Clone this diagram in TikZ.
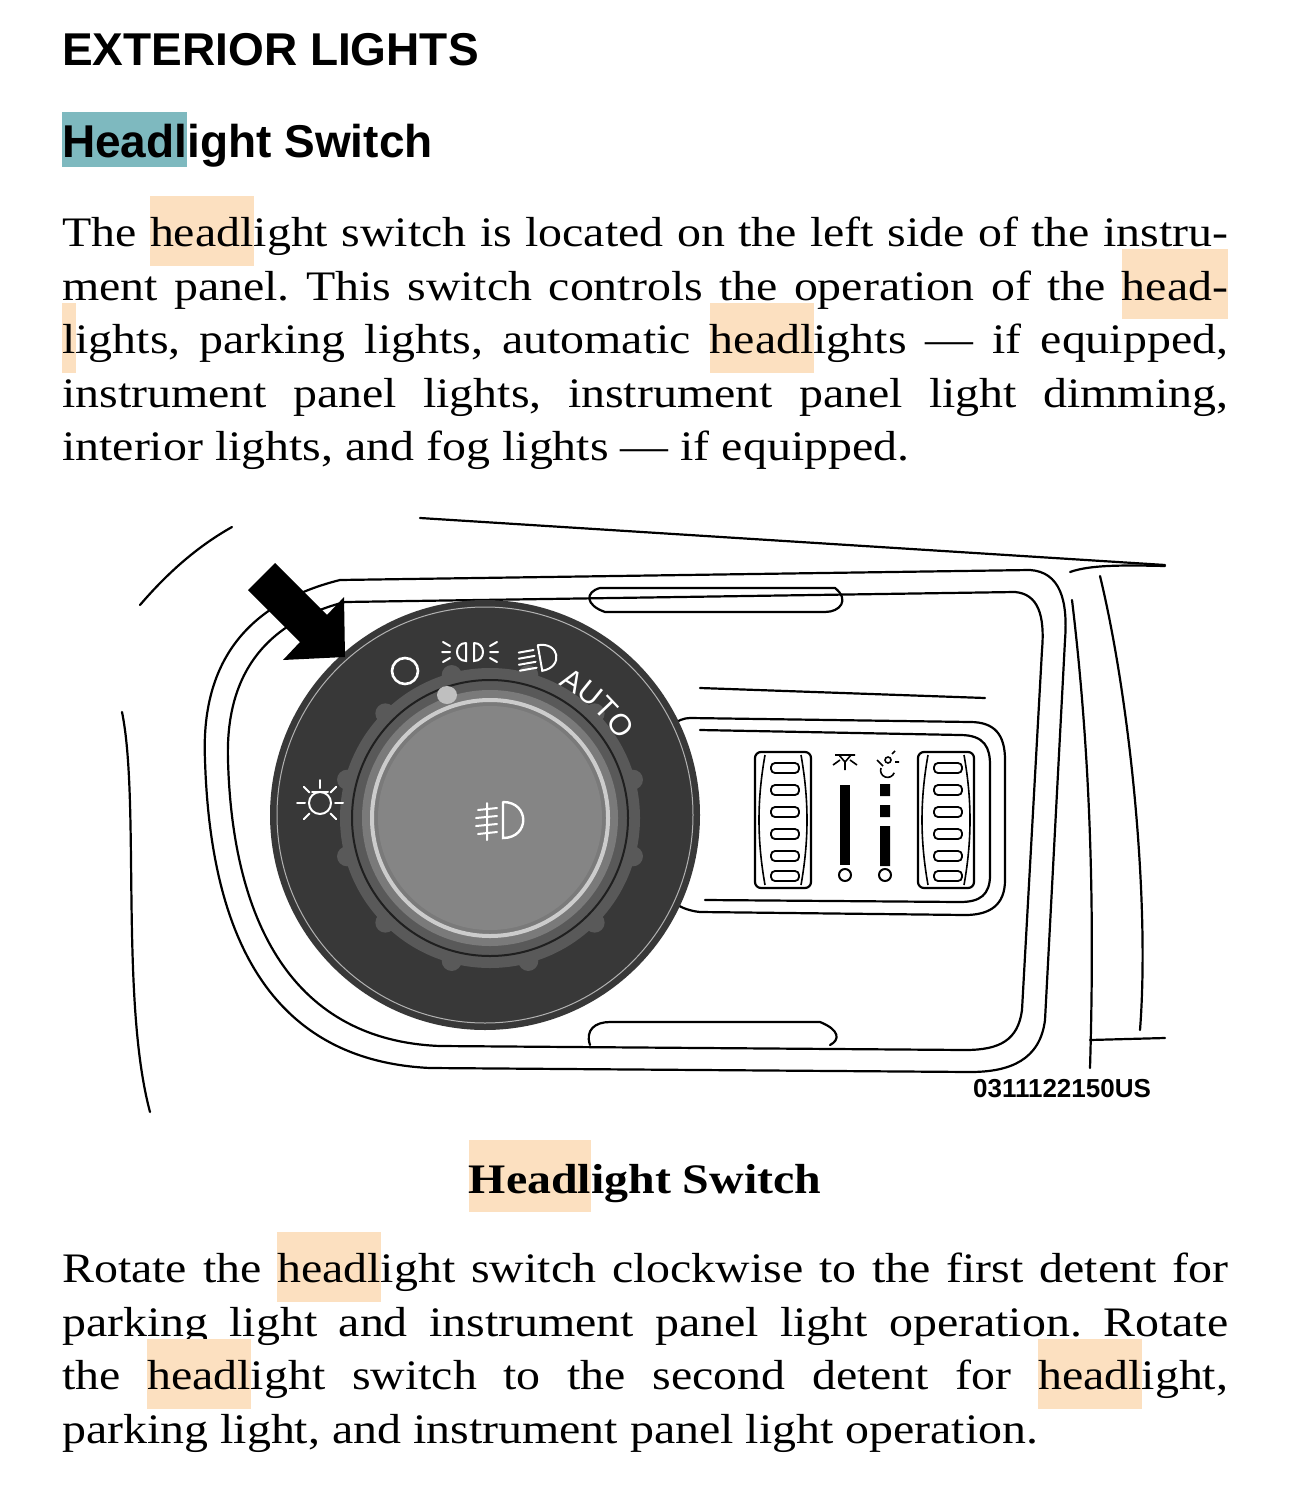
\documentclass[tikz,border=0pt]{standalone}
\usepackage{fontspec}
\setmainfont[FakeStretch=1.14]{Liberation Serif}
\newfontfamily\hsans{Liberation Sans}
\usetikzlibrary{arrows.meta,calc}
\definecolor{hlc}{HTML}{FCE0C0}
\definecolor{tealc}{HTML}{7EB9BF}
\newcommand\hl[1]{\leavevmode\rlap{\smash{\fboxsep=0pt\colorbox{hlc}{\rule[-19pt]{0pt}{70pt}\phantom{#1}}}}#1}
\tikzset{ln/.style={line width=2.2pt,line join=round,line cap=round},
 ic/.style={white,line width=2pt,line cap=round},
 para/.style={anchor=north west,inner sep=0pt,text width=1166pt,align=justify,font=\fontsize{42}{53.5}\selectfont}}
\begin{document}
\frenchspacing
\begin{tikzpicture}[x=1pt,y=-1pt]
\useasboundingbox (0,0) rectangle (1297,1511);
\fill[white] (0,0) rectangle (1297,1511);
\node[anchor=base west,inner sep=0pt,font=\hsans\bfseries\fontsize{46}{50}\selectfont] (h1) at (62,66) {EXTERIOR LIGHTS};
\node[anchor=base west,inner sep=0pt,font=\hsans\bfseries\fontsize{46}{50}\selectfont] (h2) at (62,158) {\rlap{\smash{\fboxsep=0pt\colorbox{tealc}{\rule[-9pt]{0pt}{55pt}\phantom{Headl}}}}Headlight Switch};
\node[para] (p1) at (62,217) {The \hl{headl}ight switch is located on the left side of the instru-\linebreak ment panel. This switch controls the operation of the \hl{head-}\linebreak \hl{l}ights, parking lights, automatic \hl{headl}ights --- if equipped,\linebreak instrument panel lights, instrument panel light dimming,\linebreak interior lights, and fog lights --- if equipped.};
\node[anchor=base,inner sep=0pt,font=\bfseries\fontsize{42}{50}\selectfont] (cap) at (645,1193) {\rlap{\smash{\fboxsep=0pt\colorbox{hlc}{\rule[-19pt]{0pt}{72pt}\phantom{Headl}}}}Headlight Switch};
\node[para] (p2) at (62,1253) {Rotate the \hl{headl}ight switch clockwise to the first detent for\linebreak parking light and instrument panel light operation. Rotate\linebreak the \hl{headl}ight switch to the second detent for \hl{headl}ight,\linebreak parking light, and instrument panel light operation.};
% ---- diagram outlines
\draw[ln] (420,518) -- (1165,565);
\draw[ln] (140,605) .. controls (170,570) and (200,545) .. (232,527);
\draw[ln] (122,712) .. controls (140,800) and (120,1000) .. (150,1112);
\draw[ln] (205,760) .. controls (200,650) and (260,600) .. (340,580) -- (1030,570) .. controls (1060,572) and (1068,600) .. (1065,640) -- (1045,1020) .. controls (1040,1060) and (1010,1072) .. (970,1072) -- (430,1068) .. controls (260,1060) and (210,920) .. (205,760);
\draw[ln] (228,760) .. controls (225,665) and (275,620) .. (345,602) -- (1015,592) .. controls (1038,594) and (1045,615) .. (1042,650) -- (1022,1010) .. controls (1018,1040) and (1000,1050) .. (965,1050) -- (440,1046) .. controls (285,1040) and (232,910) .. (228,760);
\draw[ln] (600,588) -- (835,588) .. controls (850,600) and (840,612) .. (825,612) -- (605,612) .. controls (585,605) and (585,592) .. (600,588);
\draw[ln] (590,1045) .. controls (585,1030) and (595,1022) .. (610,1022) -- (820,1022) .. controls (840,1030) and (840,1040) .. (830,1045);
\draw[ln] (700,688) -- (985,698);
\draw[ln] (1070,572) .. controls (1090,565) and (1120,565) .. (1165,566);
\draw[ln] (1100,576) .. controls (1130,700) and (1150,900) .. (1140,1030);
\draw[ln] (1072,600) .. controls (1090,750) and (1095,900) .. (1090,1068);
\draw[ln] (1090,1040) -- (1165,1038);
% thumbwheel panel
\draw[ln,fill=white] (690,718) -- (970,722) .. controls (995,722) and (1005,735) .. (1005,760) -- (1005,880) .. controls (1005,905) and (990,915) .. (965,915) -- (700,912) .. controls (680,910) and (668,900) .. (655,885) -- (655,745) .. controls (665,728) and (678,718) .. (690,718);
\draw[ln] (700,730) -- (960,735) .. controls (985,735) and (990,748) .. (990,765) -- (990,875) .. controls (990,895) and (980,902) .. (960,902) -- (705,900);
% outer dark knob
\fill[black!78] (485,815) circle (215);
\draw[white!70!black,line width=1pt] (485,815) circle (208);
\fill[black!65] (490,818) circle (150);
\foreach \a in {15,45,...,345}{\fill[black!65] (490,818) ++(\a:148) circle (10);}
\draw[black!88,line width=2pt] (490,818) circle (138);
\fill[black!52] (490,818) circle (128);
\draw[white!80!black,line width=4pt] (490,818) circle (118);
\fill[black!48] (490,818) circle (112);
\fill[white!75!black] (447,695) ellipse (10 and 9);
% icons
\draw[ic,line width=2.6pt] (405,671) circle (13);
\begin{scope}[shift={(470,652)}]
\draw[ic] (-4,-9) -- (-4,9) .. controls (-16,9) and (-16,-9) .. (-4,-9);
\draw[ic] (4,-9) -- (4,9) .. controls (16,9) and (16,-9) .. (4,-9);
\draw[ic] (-20,-6)--(-27,-10) (-20,0)--(-28,0) (-20,6)--(-27,10) (20,-6)--(27,-10) (20,0)--(28,0) (20,6)--(27,10);
\end{scope}
\begin{scope}[shift={(540,658)},rotate=10]
\draw[ic] (0,-13) -- (0,13) .. controls (22,13) and (22,-13) .. (0,-13);
\draw[ic] (-5,-9)--(-20,-9) (-5,-3)--(-21,-3) (-5,3)--(-22,3) (-5,9)--(-22,9);
\end{scope}
\foreach \ch/\an [count=\i] in {A/-59,U/-51,T/-43.5,O/-35.5}{
\node[white,font=\hsans\fontsize{30}{30}\selectfont,rotate=-90-\an,inner sep=0pt] (au\i) at ($(490,818)+(\an:160)$) {\ch};}
\begin{scope}[shift={(320,803)}]
\draw[ic] (0,0) circle (11);
\draw[ic] (-8,-11) -- (8,-11);
\foreach \a in {0,45,135,180,225,270,315}{\draw[ic] (\a:15) -- (\a:23);}
\end{scope}
\begin{scope}[shift={(500,820)}]
\draw[ic,line width=2.4pt] (3,-18) -- (3,18) .. controls (30,18) and (30,-18) .. (3,-18);
\draw[ic] (-3,-12)--(-22,-10) (-3,-4)--(-24,-2) (-3,4)--(-24,6) (-3,12)--(-22,14) (-13,-17)--(-13,20);
\end{scope}
% arrow
\fill[black] (345,657) -- (283,660) -- (300,642) -- (248,590) -- (275,563) -- (327,615) -- (344,597) -- cycle;
% thumbwheels
\foreach \xx in {755,918}{
\draw[ln,fill=white,rounded corners=6pt] (\xx,752) rectangle ++(56,136);
\draw[line width=1.6pt] (\xx+10,755) .. controls (\xx+2,800) and (\xx+2,840) .. (\xx+10,885);
\draw[line width=1.6pt] (\xx+46,755) .. controls (\xx+54,800) and (\xx+54,840) .. (\xx+46,885);
\foreach \yy in {768,790,812,834,856,876}{\draw[line width=1.8pt,rounded corners=4pt] (\xx+16,\yy-5) rectangle (\xx+44,\yy+5);}
}
\fill (840,785) rectangle (850,865);
\draw[line width=2pt] (845,875) circle (6);
\fill (880,784) rectangle (890,796) (880,805) rectangle (890,817) (880,826) rectangle (890,866);
\draw[line width=2pt] (885,875) circle (6);
\begin{scope}[shift={(845,762)}]
\draw[line width=1.6pt] (-10,-7) -- (10,-7) (-6,-7) -- (0,0) -- (6,-7) (0,0) -- (0,8) (-5,-2)--(-12,3) (5,-2)--(12,3);
\end{scope}
\begin{scope}[shift={(887,762)}]
\draw[line width=1.6pt] (-6,6) arc(200:20:7) (1,-2) circle (3) (5,-8)--(8,-11) (8,0)--(12,0) (-10,-2)--(-4,4);
\end{scope}
\node[anchor=base,inner sep=0pt,font=\hsans\bfseries\fontsize{26}{26}\selectfont] (code) at (1062,1097) {0311122150US};
\end{tikzpicture}
\end{document}
